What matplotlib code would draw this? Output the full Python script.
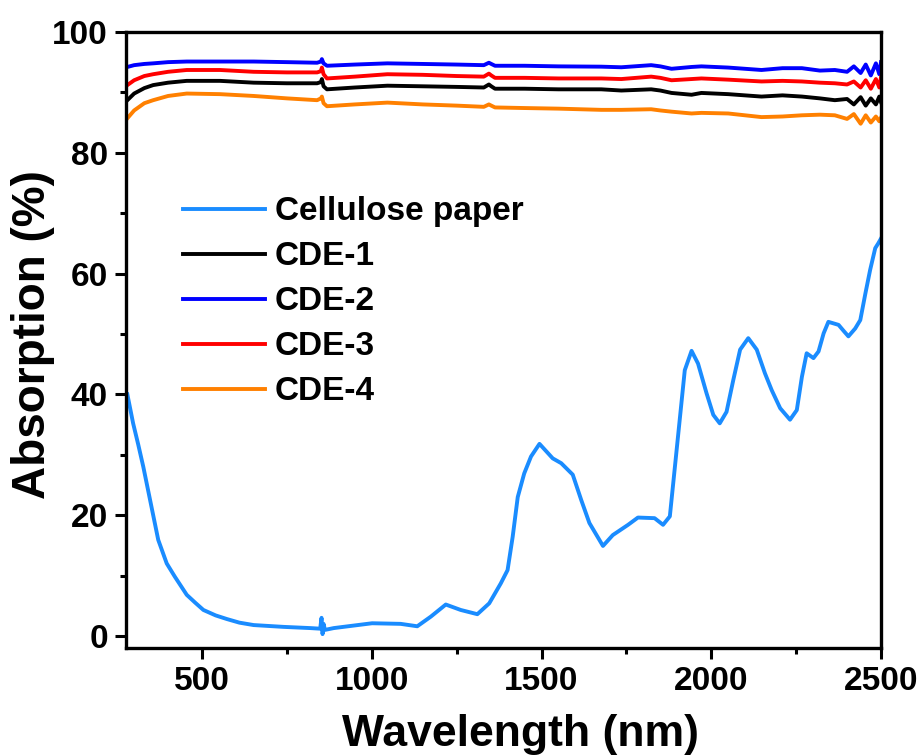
import matplotlib
matplotlib.use('Agg')
import matplotlib.pyplot as plt
from matplotlib.ticker import MultipleLocator

plt.rcParams['font.family'] = ['Liberation Sans', 'DejaVu Sans']
plt.rcParams['font.weight'] = 'bold'

# cellulose paper
wl_paper = [280, 297, 312, 327, 351, 371, 396, 420, 455, 480, 504, 540, 573, 610, 652, 740, 819,
            848, 852, 855, 858, 862, 888, 1001, 1085, 1134, 1174, 1218, 1262, 1311, 1346,
            1380, 1400, 1415, 1430, 1449, 1469, 1494, 1533, 1558, 1592, 1617, 1641, 1681,
            1710, 1755, 1784, 1833, 1858, 1878, 1892, 1912, 1922, 1942, 1961, 1986, 2006,
            2025, 2045, 2065, 2085, 2109, 2134, 2158, 2178, 2203, 2232, 2252, 2267, 2281,
            2301, 2316, 2331, 2345, 2375, 2390, 2404, 2424, 2439, 2454, 2468, 2483, 2492, 2500]
abs_paper = [40, 35.2, 31.7, 28.0, 21.4, 15.9, 12.0, 9.8, 6.8, 5.5, 4.3, 3.4, 2.8, 2.2, 1.8, 1.5, 1.3,
             1.2, 3.0, 0.3, 2.0, 1.0, 1.3, 2.1, 2.0, 1.6, 3.2, 5.2, 4.3, 3.6, 5.4,
             8.7, 10.9, 16.4, 23, 26.9, 29.7, 31.8, 29.4, 28.6, 26.7, 22.5, 18.7, 14.9,
             16.7, 18.4, 19.6, 19.5, 18.4, 19.8, 27.5, 38.5, 44, 47.2, 45.1, 40.2, 36.6,
             35.2, 37.1, 42.4, 47.4, 49.3, 47.4, 43.5, 40.7, 37.7, 35.8, 37.4, 42.9, 46.8,
             46.0, 47.1, 50.1, 52.0, 51.5, 50.5, 49.6, 50.9, 52.3, 56.7, 60.6, 64.2, 65.0, 65.8]

# CDE samples share one wavelength grid
wl_cde = [280, 300, 330, 356, 400, 455, 553, 652, 750, 839, 850, 853, 858, 868, 950,
          1046, 1150, 1250, 1330, 1345, 1352, 1363, 1450, 1550, 1676, 1735, 1823, 1850,
          1883, 1942, 1971, 2050, 2148, 2210, 2267, 2320, 2364, 2400, 2420, 2440, 2455,
          2470, 2485, 2495, 2500]
abs_cde1 = [88.7, 89.8, 90.7, 91.2, 91.6, 91.9, 91.9, 91.6, 91.5, 91.5, 91.7, 92.2, 91.0, 90.5, 90.8,
            91.1, 91.0, 90.9, 90.8, 91.3, 91.0, 90.6, 90.6, 90.5, 90.5, 90.3, 90.5, 90.3,
            89.9, 89.6, 89.9, 89.7, 89.3, 89.5, 89.3, 89.0, 88.7, 88.9, 88.0, 89.2, 87.8,
            89.0, 88.0, 89.3, 88.4]
abs_cde2 = [94.2, 94.5, 94.7, 94.8, 95.0, 95.1, 95.1, 95.1, 95.0, 94.9, 95.1, 95.5, 94.8, 94.4, 94.6,
            94.8, 94.7, 94.6, 94.5, 94.9, 94.7, 94.4, 94.4, 94.3, 94.25, 94.15, 94.5, 94.3,
            93.9, 94.2, 94.3, 94.1, 93.7, 94.0, 94.0, 93.6, 93.7, 93.4, 94.3, 93.2, 94.6,
            92.8, 94.8, 93.0, 95.0]
abs_cde3 = [91.2, 92.0, 92.7, 93.0, 93.4, 93.7, 93.7, 93.4, 93.3, 93.3, 93.5, 94.1, 93.0, 92.3, 92.6,
            93.0, 92.9, 92.7, 92.6, 93.1, 92.8, 92.4, 92.4, 92.3, 92.3, 92.2, 92.6, 92.4,
            92.0, 92.2, 92.3, 92.1, 91.8, 91.9, 91.8, 91.6, 91.5, 91.3, 91.8, 90.8, 92.0,
            90.6, 92.2, 90.8, 92.5]
abs_cde4 = [85.7, 87.0, 88.2, 88.7, 89.4, 89.8, 89.7, 89.4, 89.0, 88.7, 89.0, 89.3, 88.2, 87.7, 88.0,
            88.3, 88.0, 87.8, 87.6, 88.0, 87.8, 87.5, 87.4, 87.3, 87.1, 87.1, 87.2, 87.0,
            86.8, 86.5, 86.6, 86.5, 85.9, 86.0, 86.2, 86.3, 86.2, 85.6, 86.4, 84.8, 86.2,
            85.0, 86.0, 85.2, 85.8]

fig = plt.figure(figsize=(9.23, 7.55), dpi=100)
ax = fig.add_axes([0.1365, 0.1417, 0.818, 0.816])

lw = 2.8
ax.plot(wl_paper, abs_paper, color='#1a8cff', lw=lw, label='Cellulose paper')
ax.plot(wl_cde, abs_cde1, color='black', lw=lw, label='CDE-1')
ax.plot(wl_cde, abs_cde2, color='#0000ff', lw=lw, label='CDE-2')
ax.plot(wl_cde, abs_cde3, color='#ff0000', lw=lw, label='CDE-3')
ax.plot(wl_cde, abs_cde4, color='#ff8000', lw=lw, label='CDE-4')

ax.set_xlim(276, 2500)
ax.set_ylim(-2, 100)
ax.xaxis.set_major_locator(MultipleLocator(500))
ax.xaxis.set_minor_locator(MultipleLocator(250))
ax.yaxis.set_major_locator(MultipleLocator(20))
ax.yaxis.set_minor_locator(MultipleLocator(10))

for s in ax.spines.values():
    s.set_linewidth(2.4)
ax.tick_params(which='major', direction='out', length=8, width=2.2, labelsize=24, pad=5)
ax.tick_params(which='minor', direction='out', length=4.5, width=2.2)
ax.tick_params(top=False, right=False, which='both')

ax.set_xlabel('Wavelength (nm)', fontsize=32, fontweight='bold', labelpad=12)
ax.xaxis.label.set_x(0.522)
ax.set_ylabel('Absorption (%)', fontsize=33, fontweight='bold')
ax.yaxis.set_label_coords(-0.094, 0.508)

# legend without frame, upper left
leg = ax.legend(loc='upper left', bbox_to_anchor=(0.058, 0.755), frameon=False,
                fontsize=24, handlelength=2.46, handletextpad=0.3, labelspacing=0.42,
                borderaxespad=0)
for t in leg.get_texts():
    t.set_fontweight('bold')

fig.savefig('out.png', dpi=100)
